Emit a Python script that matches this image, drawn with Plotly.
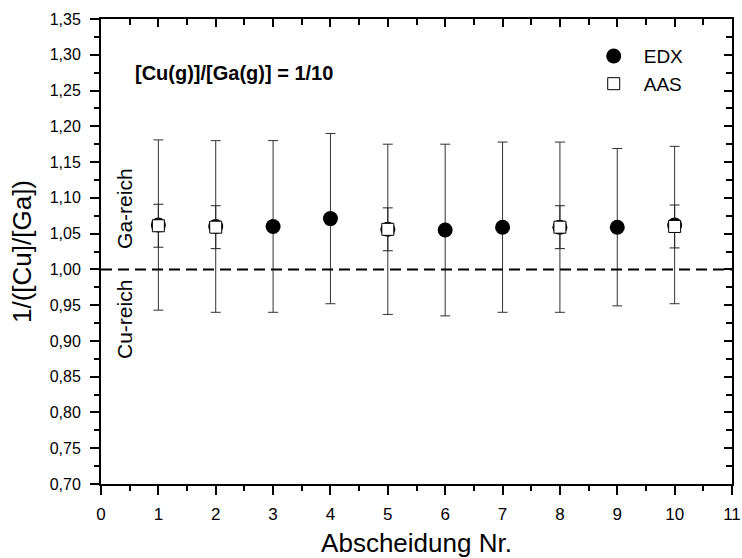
import plotly.graph_objects as go

# ---- data ----
x_edx = [1, 2, 3, 4, 5, 6, 7, 8, 9, 10]
y_edx = [1.062, 1.060, 1.060, 1.071, 1.056, 1.055, 1.059, 1.059, 1.059, 1.062]
err_edx = [0.119, 0.120, 0.120, 0.119, 0.119, 0.120, 0.119, 0.119, 0.110, 0.110]

x_aas = [1, 2, 5, 8, 10]
y_aas = [1.061, 1.059, 1.056, 1.059, 1.060]
err_aas = [0.030, 0.030, 0.030, 0.030, 0.030]

ref_line = 1.00
x_range = [0, 11]
y_range = [0.70, 1.35]

FONT = "Liberation Sans, Arial, sans-serif"

fig = go.Figure()

fig.add_trace(go.Scatter(
    x=x_edx, y=y_edx, mode="markers", name="EDX",
    marker=dict(symbol="circle", size=15, color="black"),
    error_y=dict(type="data", array=err_edx, visible=True,
                 color="#333333", thickness=1, width=5),
))
fig.add_trace(go.Scatter(
    x=x_aas, y=y_aas, mode="markers", name="AAS",
    marker=dict(symbol="square", size=12, color="white",
                line=dict(color="black", width=1)),
    error_y=dict(type="data", array=err_aas, visible=True,
                 color="#222222", thickness=1, width=5),
))
# invisible helper trace for the mirrored (top/right) axes
fig.add_trace(go.Scatter(
    x=x_edx, y=y_edx, mode="none", xaxis="x2", yaxis="y2",
    showlegend=False, hoverinfo="skip",
))

fig.add_shape(type="line", xref="paper", x0=0, x1=1, yref="y",
              y0=ref_line, y1=ref_line,
              line=dict(color="black", width=2, dash="11px,6px"))

fig.add_annotation(x=0.56, y=1.2745, xref="x", yref="y",
                   text="<b>[Cu(g)]/[Ga(g)] = 1/10</b>", showarrow=False,
                   xanchor="left", yanchor="middle",
                   font=dict(family=FONT, size=20, color="black"))
fig.add_annotation(x=0.40, y=1.0858, xref="x", yref="y",
                   text="Ga-reich", textangle=-90, showarrow=False,
                   xanchor="center", yanchor="middle",
                   font=dict(family=FONT, size=21, color="black"))
fig.add_annotation(x=0.40, y=0.9306, xref="x", yref="y",
                   text="Cu-reich", textangle=-90, showarrow=False,
                   xanchor="center", yanchor="middle",
                   font=dict(family=FONT, size=21, color="black"))

axis_common = dict(showgrid=False, zeroline=False, linecolor="black",
                   tickcolor="black", tickwidth=2, automargin=False)

fig.update_layout(
    width=742, height=558,
    margin=dict(l=101, r=10, t=19, b=74, autoexpand=False),
    paper_bgcolor="white", plot_bgcolor="white",
    separators=",.",
    font=dict(family=FONT, color="black"),
    showlegend=True,
    legend=dict(x=0.765, y=0.961, xanchor="left", yanchor="top",
                bgcolor="rgba(0,0,0,0)", borderwidth=0,
                font=dict(family=FONT, size=19, color="black"),
                tracegroupgap=0, itemwidth=50),
    xaxis=dict(range=x_range, tickmode="linear", tick0=0, dtick=1,
               ticks="outside", ticklen=9, showline=True, linewidth=2,
               mirror=True,
               minor=dict(dtick=0.5, ticks="outside", ticklen=5,
                          tickwidth=2, tickcolor="black"),
               tickfont=dict(family=FONT, size=17),
               ticklabelstandoff=5,
               title=dict(text="Abscheidung Nr.", standoff=17,
                          font=dict(family=FONT, size=26)),
               **axis_common),
    yaxis=dict(range=y_range, tickmode="linear", tick0=0.70, dtick=0.05,
               tickformat=".2f", ticks="outside", ticklen=9,
               showline=True, linewidth=2, mirror=True,
               minor=dict(dtick=0.025, ticks="outside", ticklen=5,
                          tickwidth=2, tickcolor="black"),
               tickfont=dict(family=FONT, size=16),
               ticklabelstandoff=6,
               title=dict(text="1/([Cu]/[Ga])", standoff=11,
                          font=dict(family=FONT, size=26)),
               **axis_common),
    xaxis2=dict(range=x_range, overlaying="x", side="top", anchor="y2",
                tickmode="linear", tick0=0, dtick=1, ticks="inside",
                ticklen=8, showticklabels=False, showline=False,
                minor=dict(dtick=0.5, ticks="inside", ticklen=6,
                           tickwidth=2, tickcolor="black"),
                **axis_common),
    yaxis2=dict(range=y_range, overlaying="y", side="right", anchor="x2",
                tickmode="linear", tick0=0.70, dtick=0.05, ticks="inside",
                ticklen=8, showticklabels=False, showline=False,
                minor=dict(dtick=0.025, ticks="inside", ticklen=6,
                           tickwidth=2, tickcolor="black"),
                **axis_common),
)

fig.write_html("out.html")
